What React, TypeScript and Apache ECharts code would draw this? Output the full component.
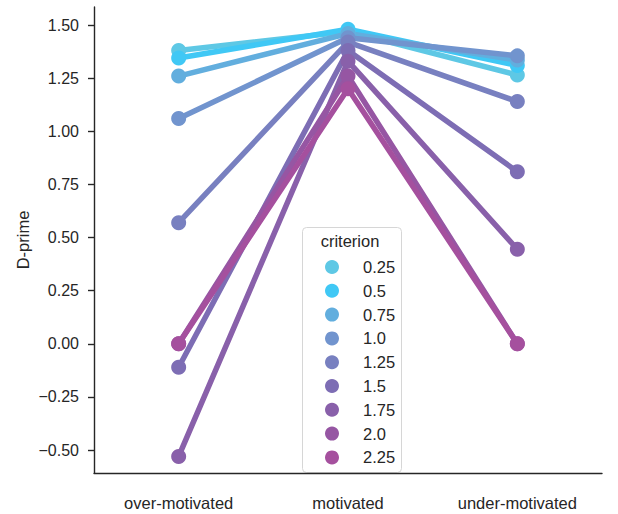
import React, { useEffect, useRef } from "react";
import * as echarts from "echarts";

const categories = ["over-motivated", "motivated", "under-motivated"];
const criteria = ["0.25", "0.5", "0.75", "1.0", "1.25", "1.5", "1.75", "2.0", "2.25"];
const colors = [
  "#5ec8e5",
  "#40c8f5",
  "#62aede",
  "#7194ce",
  "#7880c0",
  "#7d6db4",
  "#8960aa",
  "#9656a3",
  "#a5509e",
];
const dprime: number[][] = [
  [1.38, 1.47, 1.265],
  [1.345, 1.48, 1.31],
  [1.26, 1.46, 1.335],
  [1.06, 1.44, 1.355],
  [0.57, 1.42, 1.14],
  [-0.11, 1.38, 0.81],
  [-0.53, 1.33, 0.445],
  [0.0, 1.26, 0.0],
  [0.0, 1.2, 0.0],
];
const yTicks = [-0.5, -0.25, 0, 0.25, 0.5, 0.75, 1.0, 1.25, 1.5];

const FONT = "Liberation Sans, Arial, sans-serif";

export default function App() {
  const ref = useRef<HTMLDivElement>(null);
  useEffect(() => {
    if (!ref.current) return;
    const chart = echarts.init(ref.current, undefined, { renderer: "svg" });
    const series = criteria.map((c, i) => ({
      name: c,
      type: "line",
      data: dprime[i],
      symbol: "circle",
      symbolSize: 15,
      color: colors[i],
      lineStyle: { width: 5.5, color: colors[i] },
      itemStyle: { color: colors[i] },
      emphasis: { disabled: true },
    }));
    chart.setOption({
      animation: false,
      textStyle: { fontFamily: FONT },
      grid: { left: 94, right: 16, top: 7, bottom: 41, containLabel: false },
      xAxis: {
        type: "category",
        data: categories,
        boundaryGap: true,
        axisLine: { onZero: false, lineStyle: { color: "#262626", width: 1.4 } },
        axisTick: { alignWithLabel: true, length: 6, lineStyle: { color: "#262626", width: 1.4 } },
        axisLabel: { color: "#262626", fontSize: 16.5, margin: 21, fontFamily: FONT },
        splitLine: { show: false },
      },
      yAxis: {
        type: "value",
        min: -0.608,
        max: 1.585,
        name: "D-prime",
        nameLocation: "middle",
        nameGap: 63,
        nameMoveOverlap: false,
        nameTextStyle: { color: "#262626", fontSize: 16.5, fontFamily: FONT },
        axisLine: { show: true, onZero: false, lineStyle: { color: "#262626", width: 1.4 } },
        axisTick: { show: true, length: 6, customValues: yTicks, lineStyle: { color: "#262626", width: 1.4 } },
        axisLabel: {
          color: "#262626",
          fontSize: 16,
          margin: 15,
          fontFamily: FONT,
          customValues: yTicks,
          formatter: (v: number) => (v < 0 ? "\u2212" : "") + Math.abs(v).toFixed(2),
        },
        splitLine: { show: false },
      },
      legend: {
        orient: "vertical",
        left: 325,
        top: 258.5,
        padding: 0,
        itemGap: 6.8,
        itemWidth: 14,
        itemHeight: 14,
        icon: "circle",
        data: criteria,
        textStyle: { color: "#262626", fontSize: 16.5, lineHeight: 16, fontFamily: FONT, padding: [0, 0, 0, 19] },
        selectedMode: false,
      },
      graphic: [
        {
          type: "rect",
          z: 0,
          shape: { x: 302.5, y: 227.5, width: 99, height: 245, r: 4 },
          style: { fill: "rgba(255,255,255,0.85)", stroke: "#d6d6d6", lineWidth: 1 },
        },
        {
          type: "text",
          z: 1,
          x: 350,
          y: 241,
          style: {
            text: "criterion",
            fill: "#262626",
            font: "16.5px " + FONT,
            textAlign: "center",
            textVerticalAlign: "middle",
          },
        },
      ],
      series,
    });
    return () => chart.dispose();
  }, []);
  return (
    <div
      ref={ref}
      style={{ position: "fixed", left: 0, top: 0, width: 618, height: 514, background: "#fff" }}
    />
  );
}
